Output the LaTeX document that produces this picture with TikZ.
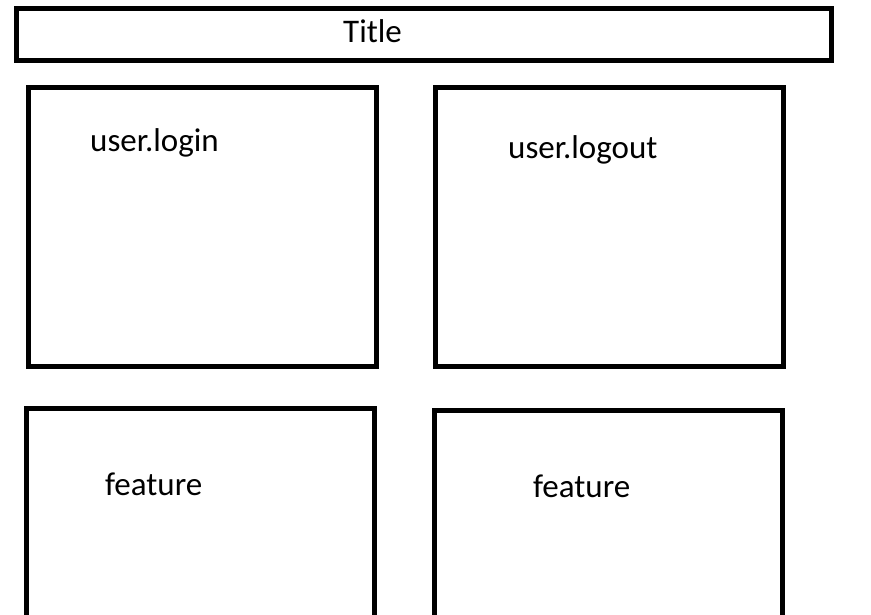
\documentclass[tikz,border=0pt]{standalone}
\usepackage{fontspec}
\setmainfont{Carlito}
\begin{document}
\begin{tikzpicture}[x=1pt,y=-1pt,
  panel/.style={draw=black,line width=5pt,rectangle,inner sep=0pt,minimum width=348pt,minimum height=279pt},
  bar/.style={draw=black,line width=5pt,rectangle,inner sep=0pt,minimum width=815pt,minimum height=52pt},
  caption/.style={anchor=base west,inner sep=0pt,font=\fontsize{33}{39}\selectfont}]
  \useasboundingbox (0,0) rectangle (871,615);
  \clip (0,0) rectangle (871,615);
  \fill[white] (0,0) rectangle (871,615);
  % header bar
  \node[bar] (titlebar) at (424,34.4) {};
  \node[caption] (titletext) at (343,43) {Title};
  % upper panels
  \node[panel] (login) at (202.6,227) {};
  \node[caption] (logintext) at (90,151.5) {user.login};
  \node[panel] (logout) at (609.9,227) {};
  \node[caption] (logouttext) at (508,158.5) {user.logout};
  % lower panels, running past the bottom edge
  \node[panel] (featA) at (200.3,548) {};
  \node[caption] (featAtext) at (105,495) {feature};
  \node[panel] (featB) at (608.6,550) {};
  \node[caption] (featBtext) at (533,497) {feature};
\end{tikzpicture}
\end{document}
